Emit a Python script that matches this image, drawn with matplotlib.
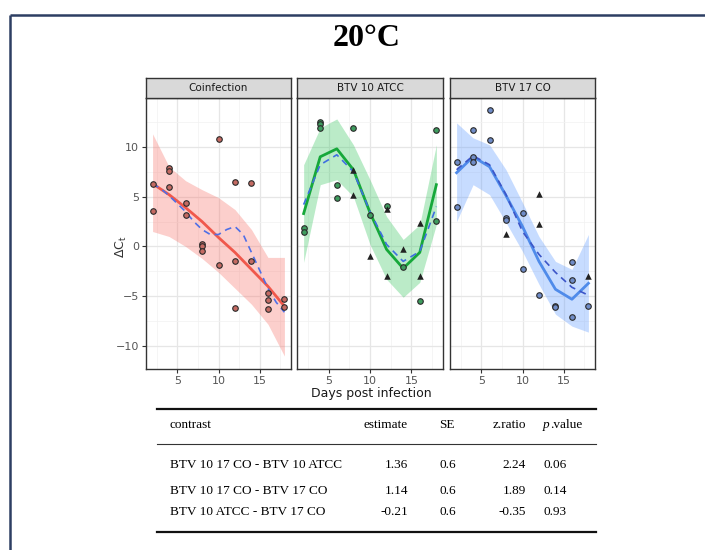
import matplotlib
matplotlib.use("Agg")
import matplotlib.pyplot as plt
import numpy as np

# ---------------- data ----------------
panels = ["Coinfection", "BTV 10 ATCC", "BTV 17 CO"]
days = [2, 4, 6, 8, 10, 12, 14, 16, 18]

# Coinfection
co_pts_x = [2, 2, 4, 4, 4, 6, 6, 8, 8, 8, 10, 10, 12, 12, 12, 14, 14, 16, 16, 16, 18, 18]
co_pts_y = [6.3, 3.6, 7.9, 7.6, 6.0, 4.4, 3.2, 0.27, 0.03, -0.5, 10.8, -1.9, 6.5, -1.5, -6.2,
            6.4, -1.5, -4.7, -5.4, -6.3, -5.3, -6.1]
co_tri_x = []
co_tri_y = []
co_fit = [6.3, 5.2, 3.9, 2.5, 0.9, -0.6, -2.3, -4.0, -6.0]
co_upper = [11.3, 8.0, 6.6, 5.7, 4.9, 3.7, 1.7, -1.1, -1.1]
co_lower = [1.5, 1.0, 0.0, -1.2, -2.6, -4.2, -5.8, -7.8, -11.0]
co_dash_x = [2, 3, 4, 5, 6, 7, 8, 9, 10, 11, 12, 13, 14, 15, 16, 17, 18]
co_dash_y = [6.3, 5.8, 5.1, 4.3, 3.5, 2.5, 1.7, 1.2, 1.2, 1.7, 2.0, 1.2, -0.6, -2.4, -4.2, -5.6, -6.6]

# BTV 10 ATCC
at_pts_x = [2, 2, 4, 4, 4, 6, 6, 8, 10, 12, 14, 16, 18, 18]
at_pts_y = [1.9, 1.5, 12.5, 12.3, 11.9, 6.2, 4.9, 11.9, 3.2, 4.1, -2.1, -5.5, 11.7, 2.6]
at_tri_x = [8, 8, 10, 12, 12, 14, 16, 16]
at_tri_y = [7.7, 5.2, -1.0, 3.8, -3.0, -0.3, 2.4, -3.0]
at_fit = [3.3, 9.0, 9.8, 7.7, 3.4, -0.3, -2.2, -0.6, 6.2]
at_upper = [8.2, 11.9, 12.8, 10.2, 6.7, 3.0, 0.7, 2.2, 10.2]
at_lower = [-1.6, 6.2, 6.7, 5.0, 0.2, -3.3, -5.1, -3.6, 2.2]
at_dash_x = days
at_dash_y = [4.2, 8.2, 9.2, 7.5, 3.5, 0.2, -1.5, -0.5, 4.0]

# BTV 17 CO
c17_pts_x = [2, 2, 4, 4, 4, 6, 6, 8, 8, 10, 10, 12, 14, 14, 16, 16, 16, 18]
c17_pts_y = [8.5, 4.0, 11.7, 9.0, 8.5, 13.7, 10.7, 2.9, 2.7, 3.4, -2.3, -4.9, -6.0, -6.1,
             -1.6, -3.4, -7.1, -6.0]
c17_tri_x = [8, 12, 12, 18]
c17_tri_y = [1.3, 5.3, 2.3, -3.0]
c17_fit = [7.4, 9.0, 8.0, 5.1, 2.0, -1.5, -4.3, -5.3, -3.7]
c17_upper = [12.4, 10.9, 10.2, 7.7, 4.4, 1.0, -1.5, -2.3, 1.2]
c17_lower = [2.5, 6.2, 5.2, 2.4, -0.5, -3.8, -6.8, -8.0, -8.6]
c17_dash_x = days
c17_dash_y = [7.7, 9.1, 8.2, 5.2, 1.5, -0.8, -2.6, -4.1, -4.9]

x_ticks = [5, 10, 15]
y_ticks = [-10, -5, 0, 5, 10]

# table
tbl_header = ["contrast", "estimate", "SE", "z.ratio", "p.value"]
tbl_contrast = ["BTV 10 17 CO - BTV 10 ATCC", "BTV 10 17 CO - BTV 17 CO", "BTV 10 ATCC - BTV 17 CO"]
tbl_estimate = ["1.36", "1.14", "-0.21"]
tbl_se = ["0.6", "0.6", "0.6"]
tbl_z = ["2.24", "1.89", "-0.35"]
tbl_p = ["0.06", "0.14", "0.93"]

# ---------------- styling ----------------
W, H = 705, 550
fig = plt.figure(figsize=(W / 100, H / 100), dpi=100)
fig.patch.set_facecolor("white")


def px_axes(x0, y0, x1, y1):
    return fig.add_axes([x0 / W, 1 - y1 / H, (x1 - x0) / W, (y1 - y0) / H])


# outer frame
frame = fig.add_axes([0, 0, 1, 1])
frame.set_xlim(0, W)
frame.set_ylim(H, 0)
frame.axis("off")
frame.plot([10, 10], [H + 5, 15], color="#2d3e63", lw=1.8, solid_capstyle="butt")
frame.plot([10, W + 5], [15, 15], color="#2d3e63", lw=1.8, solid_capstyle="butt")

fig.text(367 / W, 1 - 38 / H, "20°C", ha="center", va="center",
         fontsize=23, fontweight="bold", family="Liberation Serif")

colors = ["#F0584C", "#16A83A", "#4F8BEA"]
fills = ["#F8766D", "#3CC864", "#619CFF"]
dash_colors = ["#4F6FE6", "#3F6FE0", "#3C55C8"]
pt_fill = ["#C46A62", "#3E9C5E", "#6F8CC8"]

series = [
    (co_pts_x, co_pts_y, co_tri_x, co_tri_y, co_fit, co_upper, co_lower, co_dash_x, co_dash_y),
    (at_pts_x, at_pts_y, at_tri_x, at_tri_y, at_fit, at_upper, at_lower, at_dash_x, at_dash_y),
    (c17_pts_x, c17_pts_y, c17_tri_x, c17_tri_y, c17_fit, c17_upper, c17_lower, c17_dash_x, c17_dash_y),
]

xpos = [(146, 291), (297, 443), (450, 595)]
for i, (name, s) in enumerate(zip(panels, series)):
    px, py, tx, ty, fit, up, lo, dx, dy = s
    x0, x1 = xpos[i]
    ax = px_axes(x0, 98, x1, 369)
    ax.set_xlim(1.2, 18.8)
    ax.set_ylim(-12.3, 14.9)
    ax.set_facecolor("white")
    ax.set_xticks(x_ticks)
    ax.set_yticks(y_ticks)
    ax.set_xticks([2.5, 7.5, 12.5, 17.5], minor=True)
    ax.set_yticks([-7.5, -2.5, 2.5, 7.5, 12.5], minor=True)
    ax.grid(True, which="major", color="#e6e6e6", lw=0.9, zorder=0)
    ax.grid(True, which="minor", color="#f2f2f2", lw=0.5, zorder=0)
    ax.set_axisbelow(True)
    ax.tick_params(which="minor", length=0)
    ax.tick_params(which="major", length=3, width=0.8, color="#333333",
                   labelsize=8, labelcolor="#555555", pad=2)
    if i > 0:
        ax.tick_params(axis="y", labelleft=False, length=0)
    for sp in ax.spines.values():
        sp.set_color("#333333")
        sp.set_linewidth(1.0)

    ax.fill_between(days, lo, up, color=fills[i], alpha=0.35, lw=0, zorder=1)
    ax.plot(days, fit, color=colors[i], lw=2.0, zorder=3)
    ax.plot(dx, dy, color=dash_colors[i], lw=1.2, ls=(0, (4, 3)), zorder=4)
    ax.scatter(px, py, s=16, facecolor=pt_fill[i], edgecolor="#2a2a2a", lw=0.8, zorder=5)
    if tx:
        ax.scatter(tx, ty, s=22, marker="^", color="#222222", lw=0, zorder=5)

    # strip
    st = px_axes(x0, 78, x1, 98)
    st.set_xticks([])
    st.set_yticks([])
    st.set_facecolor("#d9d9d9")
    for sp in st.spines.values():
        sp.set_color("#333333")
        sp.set_linewidth(1.0)
    st.text(0.5, 0.5, name, ha="center", va="center", fontsize=7.5, color="#1a1a1a",
            transform=st.transAxes)

fig.text(121 / W, 1 - 247 / H, r"$\Delta\mathrm{C}_\mathrm{t}$", rotation=90, ha="center", va="center",
         fontsize=9, color="#333333")
fig.text(371 / W, 1 - 393 / H, "Days post infection", ha="center", va="center",
         fontsize=9, color="#1a1a1a")

# ---------------- table ----------------
tf = "Liberation Serif"
fs = 9.5
frame.plot([157, 596], [409, 409], color="#111111", lw=1.6)
frame.plot([157, 596], [444, 444], color="#333333", lw=0.8)
frame.plot([157, 596], [532, 532], color="#111111", lw=1.6)
hy = 425
frame.text(170, hy, tbl_header[0], ha="left", va="center", fontsize=fs, family=tf)
frame.text(408, hy, tbl_header[1], ha="right", va="center", fontsize=fs, family=tf)
frame.text(439, hy, tbl_header[2], ha="left", va="center", fontsize=fs, family=tf)
frame.text(526, hy, tbl_header[3], ha="right", va="center", fontsize=fs, family=tf)
frame.text(543, hy, tbl_header[4][0], ha="left", va="center", fontsize=fs, family=tf, style="italic")
frame.text(550, hy, tbl_header[4][1:], ha="left", va="center", fontsize=fs, family=tf)
row_y = [465, 491, 512]
for j in range(3):
    y = row_y[j]
    frame.text(170, y, tbl_contrast[j], ha="left", va="center", fontsize=fs, family=tf)
    frame.text(408, y, tbl_estimate[j], ha="right", va="center", fontsize=fs, family=tf)
    frame.text(439, y, tbl_se[j], ha="left", va="center", fontsize=fs, family=tf)
    frame.text(526, y, tbl_z[j], ha="right", va="center", fontsize=fs, family=tf)
    frame.text(543, y, tbl_p[j], ha="left", va="center", fontsize=fs, family=tf)

fig.savefig("out.png", dpi=100)
